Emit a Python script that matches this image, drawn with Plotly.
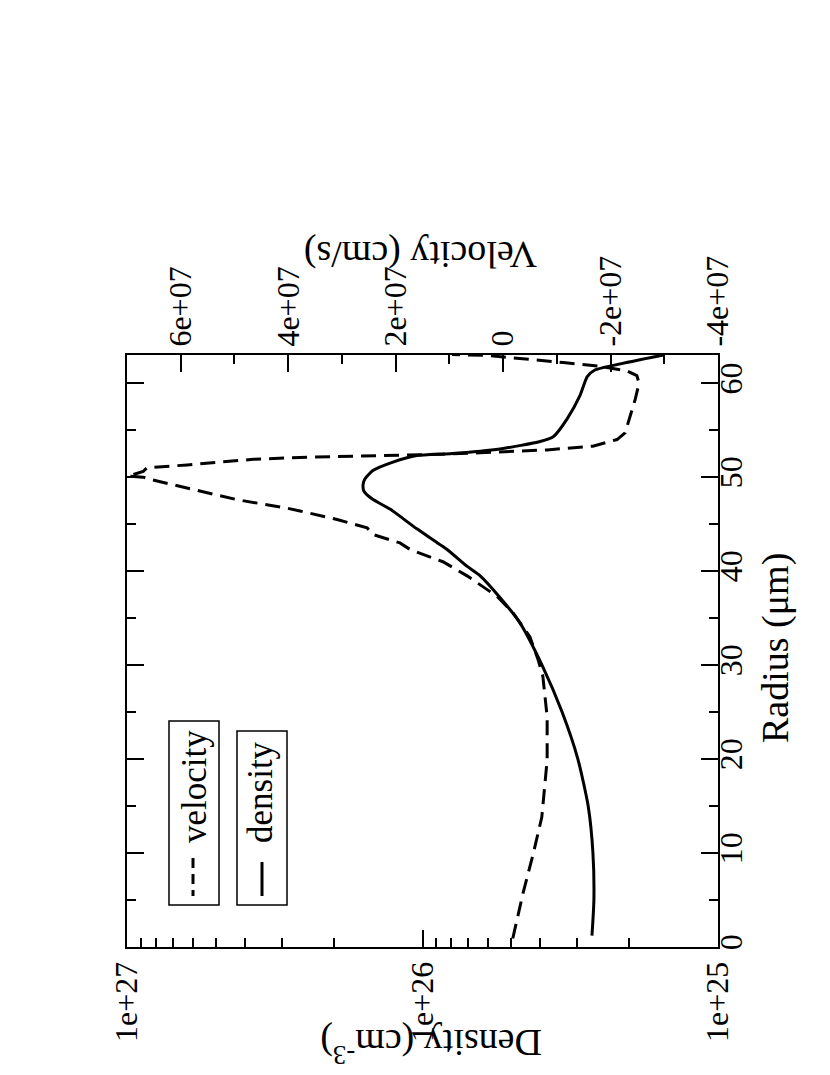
import plotly.graph_objects as go

# density profile (solid line)
radius_density = [1.2, 5, 10, 15, 20, 25, 30, 34.5, 37.2, 39.5, 40.5, 42.3, 44.5, 46.6,
                  47.7, 48.5, 49.2, 49.8, 50.7, 51.6, 52.3, 52.5, 53.0, 53.8, 54.3, 56.2,
                  58.7, 60.7, 61.4, 61.9, 63.0]
density = [2.67e25, 2.63e25, 2.65e25, 2.75e25, 2.98e25, 3.37e25, 3.94e25, 4.68e25, 5.47e25,
           6.38e25, 7.06e25, 8.26e25, 1.045e26, 1.288e26, 1.483e26, 1.578e26, 1.589e26,
           1.567e26, 1.472e26, 1.259e26, 1.045e26, 8.07e25, 5.47e25, 4.0e25, 3.61e25,
           3.24e25, 2.93e25, 2.77e25, 2.61e25, 2.26e25, 1.53e25]

# velocity profile (dashed line), in units of 1e7 cm/s
radius_velocity = [0.9, 5.7, 9.9, 13.8, 19.9, 24.5, 28.8, 30.6, 33.0, 35.6, 37.3, 39.5, 41.0,
                   42.3, 43.0, 43.9, 44.6, 45.5, 46.4, 46.7, 47.6, 48.8, 49.7, 50.0, 50.1,
                   50.6, 51.0, 51.3, 51.9, 52.1, 52.25, 52.4, 52.6, 52.9, 53.3, 54.0, 54.7,
                   56.5, 58.3, 60.0, 60.8, 61.3, 61.8, 62.2, 62.7, 62.95, 63.05]
velocity_e7 = [-0.18, -0.37, -0.56, -0.72, -0.82, -0.82, -0.74, -0.65, -0.50, -0.18, 0.11,
               0.67, 1.12, 1.73, 1.92, 2.42, 2.53, 3.09, 3.78, 4.02, 4.95, 5.88, 6.52, 6.70,
               6.98, 6.70, 6.63, 5.88, 4.65, 3.78, 2.53, 1.36, 0.43, -0.82, -1.67, -2.12,
               -2.27, -2.36, -2.46, -2.53, -2.49, -2.31, -1.80, -1.12, -0.18, 0.30, 0.95]
velocity = [v * 1e7 for v in velocity_e7]

density_ticks = [1e25, 1e26, 1e27]
density_labels = ["1e+25", "1e+26", "1e+27"]
density_minor = [m * 10.0 ** e for e in (25, 26) for m in range(2, 10)]
velocity_ticks = [-4e7, -2e7, 0, 2e7, 4e7, 6e7]
velocity_labels = ["-4e+07", "-2e+07", "0", "2e+07", "4e+07", "6e+07"]

FONT = "Liberation Serif, Times New Roman, serif"
W, H = 830, 1075
L, R, T, B = 127, 718, 355, 947  # plot frame, page pixels
BODY = 8  # default page margin around the plot div


def px(x):
    return (x - L) / (R - L)


def py(y):
    return (B - y) / (B - T)


fig = go.Figure()
fig.add_trace(go.Scatter(x=velocity, y=radius_velocity, xaxis="x2", mode="lines",
                         line=dict(color="black", width=3, dash="15px,8px"),
                         showlegend=False))
fig.add_trace(go.Scatter(x=density, y=radius_density, mode="lines",
                         line=dict(color="black", width=3, shape="spline", smoothing=0.6),
                         showlegend=False))

axis_common = dict(showgrid=False, zeroline=False, showline=True, linecolor="black",
                   linewidth=2, ticks="inside", ticklen=17, tickwidth=1.5,
                   tickcolor="black", tickangle=-90,
                   tickfont=dict(family=FONT, size=32, color="black"))

fig.update_layout(
    width=W, height=H,
    margin=dict(l=L - BODY, r=W - R + BODY, t=T - BODY, b=H - B + BODY),
    plot_bgcolor="white", paper_bgcolor="white",
    font=dict(family=FONT, color="black"),
    xaxis=dict(type="log", range=[27, 25], tickvals=density_ticks, ticktext=density_labels,
               minor=dict(tickvals=density_minor, ticks="inside", ticklen=9,
                          tickcolor="black", tickwidth=1.5),
               **axis_common),
    xaxis2=dict(overlaying="x", side="top", range=[7e7, -4e7], tickvals=velocity_ticks,
                ticktext=velocity_labels,
                minor=dict(dtick=1e7, ticks="inside", ticklen=9, tickcolor="black",
                           tickwidth=1.5),
                **axis_common),
    yaxis=dict(side="right", range=[0, 63], dtick=10, mirror="ticks",
               ticklabelstandoff=-16,
               minor=dict(dtick=5, ticks="inside", ticklen=9, tickcolor="black",
                          tickwidth=1.5),
               **axis_common),
)

title_font = dict(family=FONT, size=38, color="black")
legend_font = dict(family=FONT, size=35, color="black")
annotations = [
    dict(text="Radius (μm)", x=px(775), y=py(648), textangle=-90, font=title_font),
    dict(text="Velocity (cm/s)", x=px(421), y=py(255), textangle=180, font=title_font),
    dict(text="Density (cm<sup>-3</sup>)", x=px(431), y=py(1046), textangle=180,
         font=title_font),
    dict(text="velocity", x=px(194), y=py(787), textangle=-90, font=legend_font),
    dict(text="density", x=px(260), y=py(792), textangle=-90, font=legend_font),
]
for a in annotations:
    a.update(xref="paper", yref="paper", showarrow=False, xanchor="center", yanchor="middle")
fig.update_layout(annotations=annotations)

# legend boxes and line samples
shapes = [
    dict(type="rect", x0=px(169), x1=px(219), y0=py(721), y1=py(905),
         line=dict(color="black", width=1.5)),
    dict(type="rect", x0=px(237), x1=px(287), y0=py(731), y1=py(905),
         line=dict(color="black", width=1.5)),
    dict(type="line", x0=px(193), x1=px(193), y0=py(858), y1=py(896),
         line=dict(color="black", width=3, dash="10px,6px")),
    dict(type="line", x0=px(262), x1=px(262), y0=py(862), y1=py(896),
         line=dict(color="black", width=3)),
]
for s in shapes:
    s.update(xref="paper", yref="paper")
fig.update_layout(shapes=shapes)

fig.write_html("out.html")
